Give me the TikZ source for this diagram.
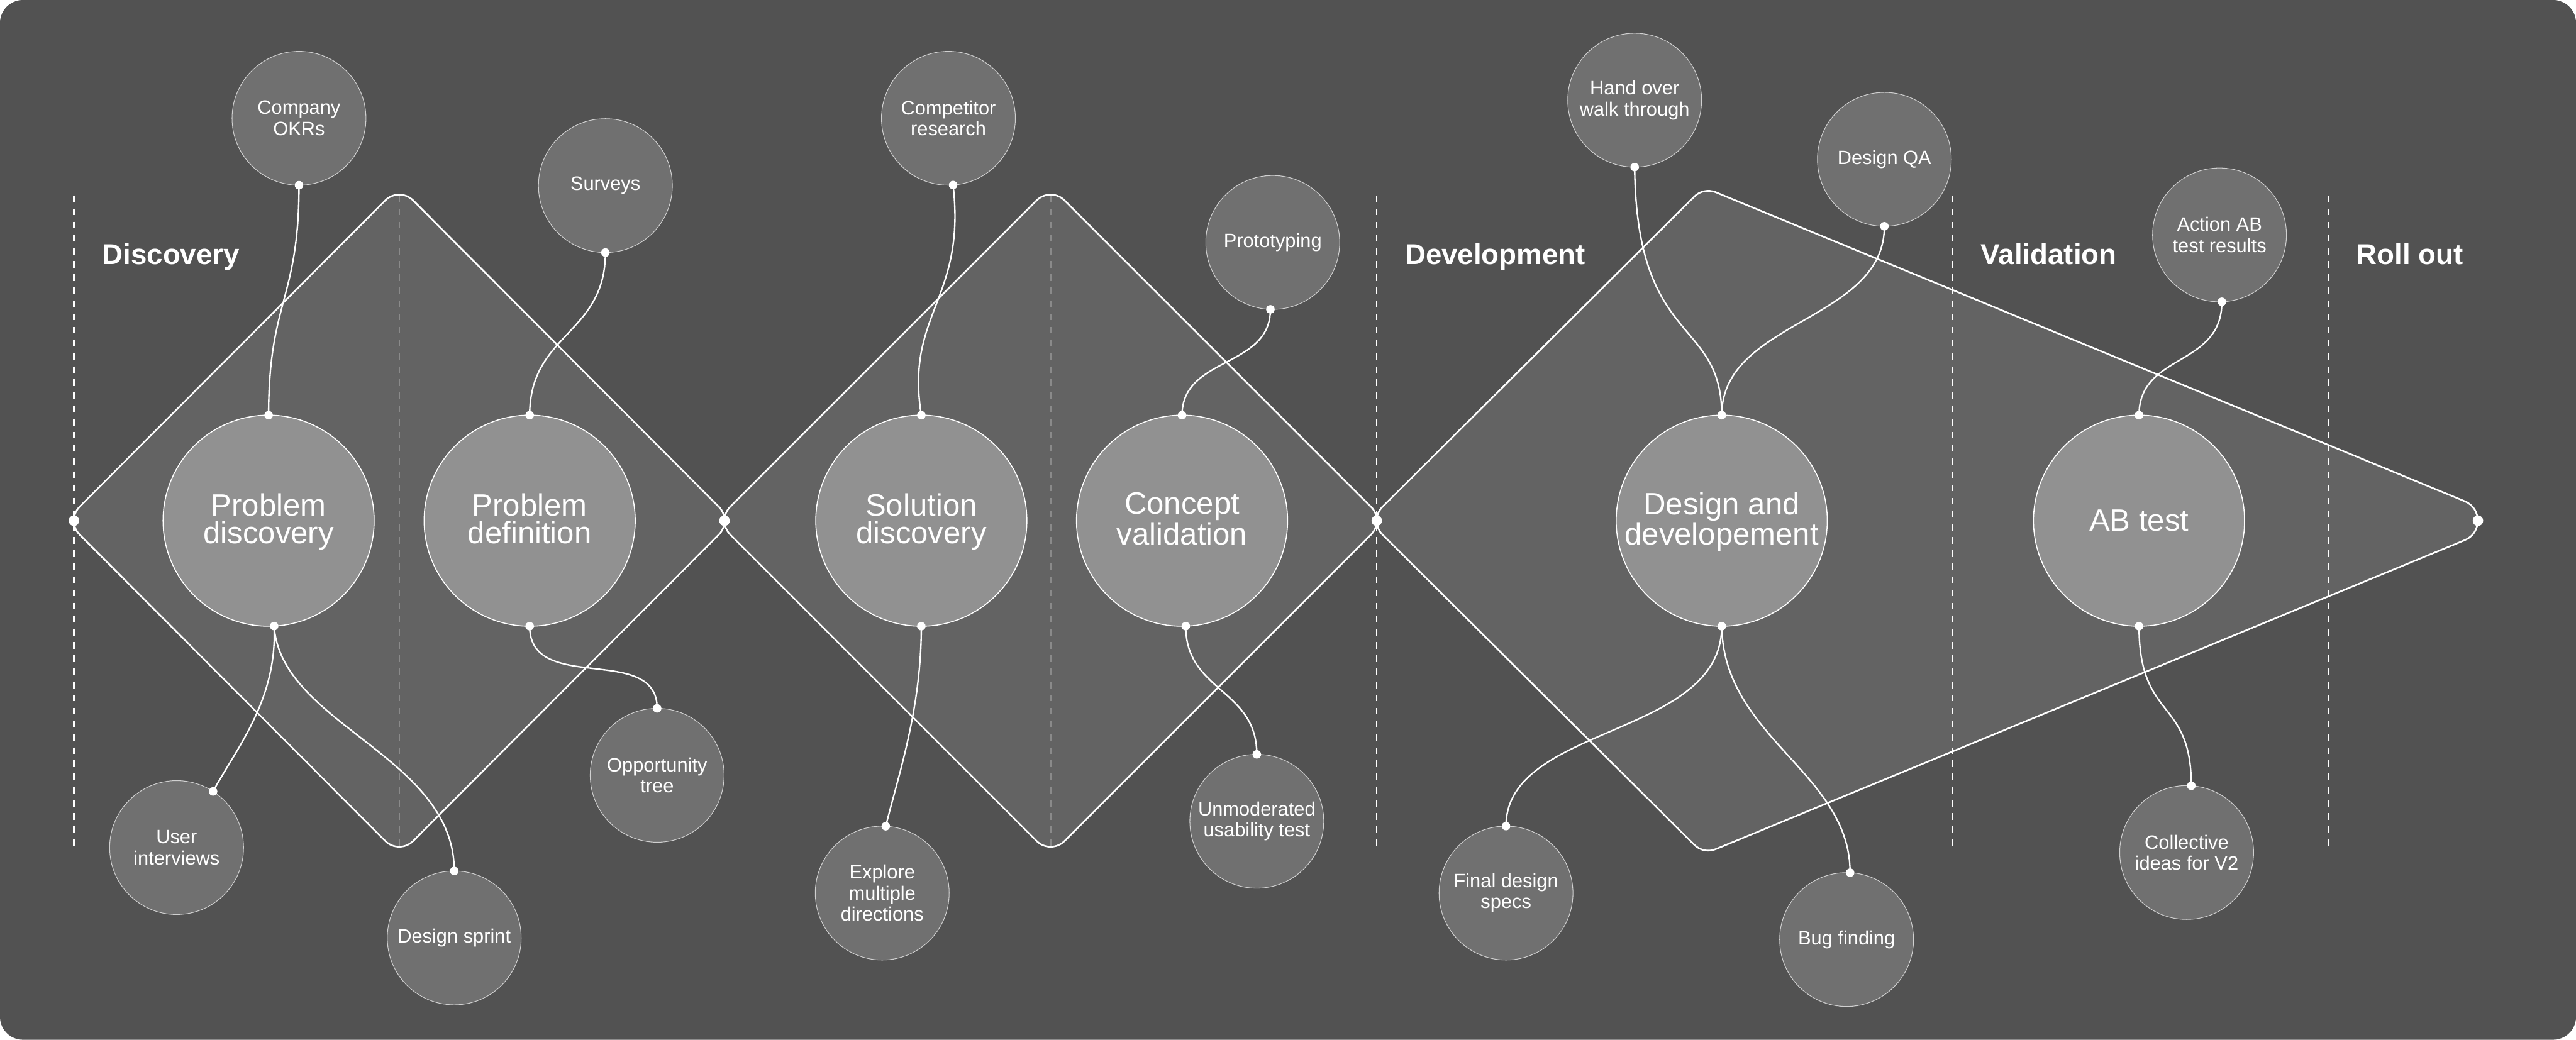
\documentclass[tikz,border=0pt]{standalone}
\usepackage{fontspec}
\setmainfont{Liberation Sans}
\usetikzlibrary{calc}
\definecolor{bgc}{HTML}{525252}
\definecolor{shapec}{HTML}{636363}
\definecolor{smallc}{HTML}{707070}
\definecolor{bigfill}{HTML}{919191}
\definecolor{guidec}{HTML}{8A8A8A}
\definecolor{rimc}{HTML}{D0D0D0}
\newcommand\lowline[1]{\raisebox{0pt}[\height][2.6pt]{#1}}
\begin{document}
\begin{tikzpicture}[x=1pt,y=-1pt,
  bignode/.style={circle, fill=bigfill, draw=white, line width=0.6pt, minimum size=128.5pt, inner sep=0pt, outer sep=0pt, text=white, align=center, font=\fontsize{18.8}{17}\selectfont},
  smallnode/.style={circle, fill=smallc, draw=rimc, line width=0.4pt, minimum size=81.5pt, inner sep=0pt, outer sep=0pt, text=white, align=center, font=\fontsize{11.8}{12.8}\selectfont},
  phase/.style={anchor=base west, text=white, inner sep=0pt, font=\fontsize{17.5}{18}\selectfont\bfseries},
  conn/.style={draw=white, line width=0.9pt},
  outline/.style={draw=white, line width=1pt, fill=shapec},
  divider/.style={draw=white, line width=0.9pt, dash pattern=on 4pt off 4pt},
  guide/.style={draw=guidec, line width=0.9pt, dash pattern=on 4pt off 4pt}]
\useasboundingbox (0,0) rectangle (1568,633);
\fill[white] (0,0) rectangle (1568,633);
\fill[bgc, rounded corners=14pt] (0,0) rectangle (1568,633);

% shape corners
\coordinate (d1L) at (40,317);   \coordinate (d1T) at (243,113.5);
\coordinate (d1R) at (446,317);  \coordinate (d1B) at (243,520.5);
\coordinate (d2L) at (436,317);  \coordinate (d2T) at (639.5,113.5);
\coordinate (d2R) at (843,317);  \coordinate (d2B) at (639.5,520.5);
\coordinate (kL) at (833,317);   \coordinate (kT) at (1037,114);
\coordinate (kR) at (1529,317);  \coordinate (kB) at (1037,520);

% diamond 1
\path[outline]
 ($(d1L)!12pt!(d1T)$) -- ($(d1T)!12pt!(d1L)$)
 .. controls ($(d1T)!5.4pt!(d1L)$) and ($(d1T)!5.4pt!(d1R)$) .. ($(d1T)!12pt!(d1R)$)
 -- ($(d1R)!12pt!(d1T)$)
 .. controls ($(d1R)!5.4pt!(d1T)$) and ($(d1R)!5.4pt!(d1B)$) .. ($(d1R)!12pt!(d1B)$)
 -- ($(d1B)!12pt!(d1R)$)
 .. controls ($(d1B)!5.4pt!(d1R)$) and ($(d1B)!5.4pt!(d1L)$) .. ($(d1B)!12pt!(d1L)$)
 -- ($(d1L)!12pt!(d1B)$)
 .. controls ($(d1L)!5.4pt!(d1B)$) and ($(d1L)!5.4pt!(d1T)$) .. ($(d1L)!12pt!(d1T)$) -- cycle;
% diamond 2
\path[outline]
 ($(d2L)!12pt!(d2T)$) -- ($(d2T)!12pt!(d2L)$)
 .. controls ($(d2T)!5.4pt!(d2L)$) and ($(d2T)!5.4pt!(d2R)$) .. ($(d2T)!12pt!(d2R)$)
 -- ($(d2R)!12pt!(d2T)$)
 .. controls ($(d2R)!5.4pt!(d2T)$) and ($(d2R)!5.4pt!(d2B)$) .. ($(d2R)!12pt!(d2B)$)
 -- ($(d2B)!12pt!(d2R)$)
 .. controls ($(d2B)!5.4pt!(d2R)$) and ($(d2B)!5.4pt!(d2L)$) .. ($(d2B)!12pt!(d2L)$)
 -- ($(d2L)!12pt!(d2B)$)
 .. controls ($(d2L)!5.4pt!(d2B)$) and ($(d2L)!5.4pt!(d2T)$) .. ($(d2L)!12pt!(d2T)$) -- cycle;
% kite
\path[outline]
 ($(kL)!12pt!(kT)$) -- ($(kT)!8pt!(kL)$)
 .. controls ($(kT)!3.15pt!(kL)$) and ($(kT)!3.15pt!(kR)$) .. ($(kT)!8pt!(kR)$)
 -- ($(kR)!31pt!(kT)$)
 .. controls ($(kR)!19.7pt!(kT)$) and ($(kR)!19.7pt!(kB)$) .. ($(kR)!31pt!(kB)$)
 -- ($(kB)!8pt!(kR)$)
 .. controls ($(kB)!3.15pt!(kR)$) and ($(kB)!3.15pt!(kL)$) .. ($(kB)!8pt!(kL)$)
 -- ($(kL)!12pt!(kB)$)
 .. controls ($(kL)!5.4pt!(kB)$) and ($(kL)!5.4pt!(kT)$) .. ($(kL)!12pt!(kT)$) -- cycle;

% guides and dividers
\draw[guide] (243,119) -- (243,515);
\draw[guide] (639.5,119) -- (639.5,515);
\draw[divider] (45,119) -- (45,517);
\draw[divider] (838,119) -- (838,517);
\draw[divider] (1188.5,119) -- (1188.5,517);
\draw[divider] (1417.5,119) -- (1417.5,517);

% phase labels
\node[phase] (ph1) at (62,161) {Discovery};
\node[phase] (ph2) at (855,161) {Development};
\node[phase] (ph3) at (1205.5,161) {Validation};
\node[phase] (ph4) at (1434,161) {Roll out};

% big circles
\node[bignode] (pd) at (163.5,317) {Problem\\\lowline{discovery}};
\node[bignode] (pdef) at (322.4,317) {Problem\\\lowline{definition}};
\node[bignode] (sd) at (560.8,317) {Solution\\\lowline{discovery}};
\node[bignode] (cv) at (719.5,317) {Concept\\\lowline{validation}};
\node[bignode] (dd) at (1048,317) {Design and\\\lowline{developement}};
\node[bignode] (ab) at (1302,317) {AB test};

% small circles
\node[smallnode] (okr) at (182,72) {Company\\OKRs};
\node[smallnode] (sv) at (368.5,113) {Surveys};
\node[smallnode] (ui) at (107.5,516) {User\\interviews};
\node[smallnode] (ds) at (276.5,571) {Design sprint};
\node[smallnode] (opp) at (400,472) {Opportunity\\tree};
\node[smallnode] (cr) at (577.3,72) {Competitor\\research};
\node[smallnode] (proto) at (774.7,147.6) {Prototyping};
\node[smallnode] (ex) at (537,543.7) {Explore\\multiple\\directions};
\node[smallnode] (um) at (765,500) {Unmoderated\\usability test};
\node[smallnode] (ho) at (995,61) {Hand over\\walk through};
\node[smallnode] (dqa) at (1147,97) {Design QA};
\node[smallnode] (aab) at (1351,143) {Action AB\\test results};
\node[smallnode] (fds) at (916.7,543.7) {Final design\\specs};
\node[smallnode] (bf) at (1124,572) {Bug finding};
\node[smallnode] (ci) at (1331,519) {Collective\\ideas for V2};

% connectors
\draw[conn] (okr.south) .. controls ($(okr.south)+(0,70)$) and ($(pd.north)+(0,-70)$) .. (pd.north);
\draw[conn] (sv.south) .. controls ($(sv.south)+(0,50)$) and ($(pdef.north)+(0,-50)$) .. (pdef.north);
\draw[conn] (pd.273) .. controls ($(pd.273)+(2,45)$) and ($(ui.57)+(14,-26)$) .. (ui.57);
\draw[conn] (pd.273) .. controls ($(pd.273)+(4,60)$) and ($(ds.north)+(0,-70)$) .. (ds.north);
\draw[conn] (pdef.south) .. controls ($(pdef.south)+(0,42)$) and ($(opp.north)+(0,-40)$) .. (opp.north);
\draw[conn] (cr.274) .. controls ($(cr.274)+(8,70)$) and ($(sd.north)+(-10,-62)$) .. (sd.north);
\draw[conn] (proto.268) .. controls ($(proto.268)+(0,36)$) and ($(cv.north)+(0,-36)$) .. (cv.north);
\draw[conn] (sd.south) .. controls ($(sd.south)+(0,50)$) and ($(ex.87)+(8,-32)$) .. (ex.87);
\draw[conn] (cv.272) .. controls ($(cv.272)+(0,40)$) and ($(um.north)+(0,-40)$) .. (um.north);
\draw[conn] (ho.south) .. controls ($(ho.south)+(1,110)$) and ($(dd.north)+(0,-60)$) .. (dd.north);
\draw[conn] (dqa.south) .. controls ($(dqa.south)+(0,58)$) and ($(dd.north)+(0,-58)$) .. (dd.north);
\draw[conn] (aab.272) .. controls ($(aab.272)+(0,40)$) and ($(ab.north)+(0,-38)$) .. (ab.north);
\draw[conn] (dd.south) .. controls ($(dd.south)+(0,68)$) and ($(fds.north)+(0,-62)$) .. (fds.north);
\draw[conn] (dd.south) .. controls ($(dd.south)+(1,68)$) and ($(bf.87)+(0,-61)$) .. (bf.87);
\draw[conn] (ab.south) .. controls ($(ab.south)+(0,58)$) and ($(ci.86)+(0,-54)$) .. (ci.86);

% connector dots
\foreach \p in {okr.south, pd.north, sv.south, pdef.north, pd.273, ui.57, ds.north,
  pdef.south, opp.north, cr.274, sd.north, proto.268, cv.north, sd.south, ex.87,
  cv.272, um.north, ho.south, dd.north, dqa.south, aab.272, ab.north, dd.south,
  fds.north, bf.87, ab.south, ci.86}
  \fill[white] (\p) circle (2.6pt);

% vertex dots
\coordinate (v1) at (45,317);
\coordinate (v2) at (441,317);
\coordinate (v3) at (838,317);
\coordinate (v4) at (1508.3,317);
\foreach \p in {v1,v2,v3,v4} \fill[white] (\p) circle (3.2pt);
\end{tikzpicture}
\end{document}
